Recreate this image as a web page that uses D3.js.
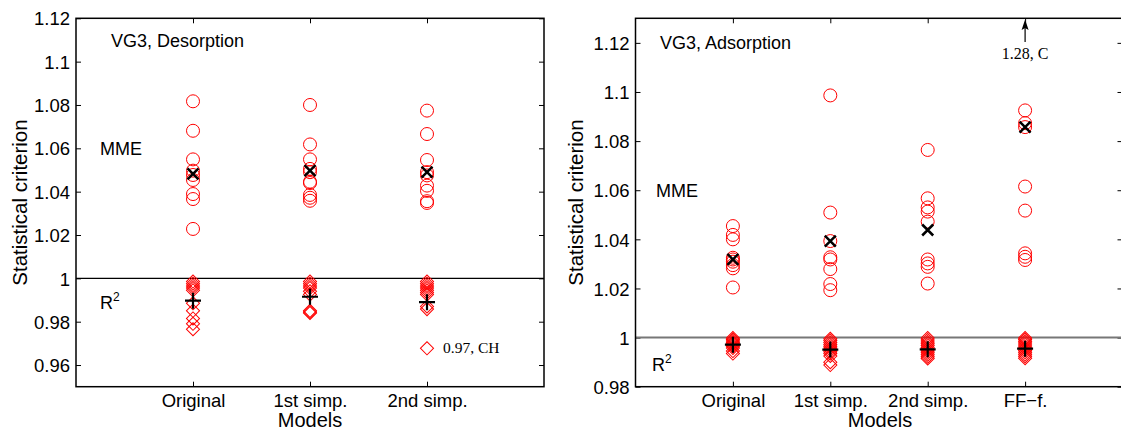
<!DOCTYPE html>
<html>
<head>
<meta charset="utf-8">
<script src="https://cdn.jsdelivr.net/npm/d3@7"></script>
<style>
  body { margin: 0; background: #fff; }
  svg text { font-family: "Liberation Sans", Arial, sans-serif; fill: #000; }
  .note { font-family: "Liberation Serif", "Times New Roman", serif; }
</style>
</head>
<body>
<div class="chart"></div>
<script>
// ---- data ----
var desModels = ["Original", "1st simp.", "2nd simp."];
var adsModels = ["Original", "1st simp.", "2nd simp.", "FF\u2212f."];

// MME values (circles), one array per model
var desMME = [
    [1.0817, 1.0681, 1.0549, 1.0497, 1.0477, 1.0454, 1.0389, 1.0366, 1.0228],
    [1.0800, 1.0618, 1.0549, 1.0505, 1.0490, 1.0446, 1.0440, 1.0385, 1.0372, 1.0358],
    [1.0774, 1.0666, 1.0546, 1.0490, 1.0475, 1.0428, 1.0404, 1.0356, 1.0348]
];
var desMMEmean = [1.0482, 1.0497, 1.0490];

// R2 values (diamonds)
var desR2 = [
    [0.9985, 0.9975, 0.9965, 0.9955, 0.9945, 0.9885, 0.9850, 0.9815, 0.9790, 0.9765],
    [0.9985, 0.9975, 0.9965, 0.9955, 0.9940, 0.9925, 0.9850, 0.9845, 0.9840],
    [0.9985, 0.9975, 0.9965, 0.9955, 0.9945, 0.9935, 0.9925, 0.9870, 0.9858]
];
var desR2mean = [0.9897, 0.9915, 0.9890];

var adsMME = [
    [1.0454, 1.0418, 1.0400, 1.0325, 1.0318, 1.0309, 1.0295, 1.0282, 1.0204],
    [1.0986, 1.0509, 1.0393, 1.0327, 1.0318, 1.0279, 1.0218, 1.0193],
    [1.0764, 1.0567, 1.0530, 1.0513, 1.0472, 1.0318, 1.0302, 1.0288, 1.0220],
    [1.0925, 1.0873, 1.0857, 1.0615, 1.0517, 1.0343, 1.0329, 1.0316]
];
var adsMMEmean = [1.0318, 1.0393, 1.0438, 1.0857];

var adsR2 = [
    [0.9998, 0.9992, 0.9986, 0.9980, 0.9975, 0.9970, 0.9965, 0.9958, 0.9945, 0.9935],
    [0.9995, 0.9988, 0.9980, 0.9972, 0.9965, 0.9958, 0.9950, 0.9942, 0.9935, 0.9925, 0.9900, 0.9888],
    [0.9998, 0.9990, 0.9982, 0.9975, 0.9968, 0.9960, 0.9952, 0.9945, 0.9938, 0.9930, 0.9922, 0.9915],
    [0.9998, 0.9992, 0.9985, 0.9978, 0.9970, 0.9962, 0.9955, 0.9947, 0.9940, 0.9932, 0.9924, 0.9916]
];
var adsR2mean = [0.9971, 0.9951, 0.9952, 0.9955];

var desTicks = [0.96, 0.98, 1, 1.02, 1.04, 1.06, 1.08, 1.1, 1.12];
var adsTicks = [0.98, 1, 1.02, 1.04, 1.06, 1.08, 1.1, 1.12];

// points that are labelled in the plot
var desNote = {model: 3, value: 0.9677, text: "0.97, CH"};
var adsNote = {model: 4, value: 1.28, text: "1.28, C"};

var svg = d3.select(".chart").append("svg")
    .attr("width", 1121)
    .attr("height", 430);

function crossPath(h) {
    var p = d3.path();
    p.moveTo(-h, -h); p.lineTo(h, h);
    p.moveTo(-h, h); p.lineTo(h, -h);
    return p.toString();
}
function plusPath(h) {
    var p = d3.path();
    p.moveTo(-h, 0); p.lineTo(h, 0);
    p.moveTo(0, -h); p.lineTo(0, h);
    return p.toString();
}
var diamond = d3.symbol().type(d3.symbolSquare).size(86);

function drawPanel(cfg) {
    var x = d3.scaleLinear().domain([0, cfg.models.length + 1]).range([cfg.left, cfg.right]);
    var y = d3.scaleLinear().domain(cfg.domain).range([386.7, 18.3]);
    var g = svg.append("g");

    // axes with inward ticks
    var left = g.append("g").attr("transform", `translate(${cfg.left},0)`)
        .call(d3.axisLeft(y).tickValues(cfg.ticks).tickSize(-5).tickPadding(6)
            .tickFormat(d => d3.format("")(+d.toFixed(2))));
    left.selectAll("text").attr("dy", "0.36em").style("font-size", "18.5px");
    g.append("g").attr("transform", `translate(${cfg.right},0)`)
        .call(d3.axisRight(y).tickValues(cfg.ticks).tickSize(-5).tickFormat(""));
    var bottom = g.append("g").attr("transform", "translate(0,386.7)")
        .call(d3.axisBottom(x).tickValues(d3.range(1, cfg.models.length + 1)).tickSize(-5).tickPadding(7)
            .tickFormat(d => cfg.models[d - 1]));
    bottom.selectAll("text").style("font-size", "18.5px");
    g.append("g").attr("transform", "translate(0,18.3)")
        .call(d3.axisTop(x).tickValues(d3.range(1, cfg.models.length + 1)).tickSize(-5).tickFormat(""));
    g.selectAll(".domain").remove();
    g.selectAll(".tick line").attr("stroke", "#000").attr("stroke-width", 1);

    // reference line at 1
    g.append("line")
        .attr("x1", cfg.left).attr("x2", cfg.right)
        .attr("y1", y(1)).attr("y2", y(1))
        .attr("stroke", cfg.lineColor).attr("stroke-width", cfg.lineWidth);

    // frame
    g.append("rect")
        .attr("x", cfg.left).attr("y", 18.3)
        .attr("width", cfg.right - cfg.left).attr("height", 386.7 - 18.3)
        .attr("fill", "none").attr("stroke", "#000").attr("stroke-width", 1.5);

    cfg.models.forEach(function(m, i) {
        var cx = x(i + 1);
        g.selectAll(null).data(cfg.r2[i]).enter().append("path")
            .attr("d", diamond)
            .attr("transform", d => `translate(${cx},${y(d)}) rotate(45)`)
            .attr("fill", "none").attr("stroke", "#f00").attr("stroke-width", 1);
        g.selectAll(null).data(cfg.mme[i]).enter().append("circle")
            .attr("cx", cx).attr("cy", d => y(d)).attr("r", 6.5)
            .attr("fill", "none").attr("stroke", "#f00").attr("stroke-width", 1);
        g.append("path").attr("d", crossPath(5.5))
            .attr("transform", `translate(${cx},${y(cfg.mmeMean[i])})`)
            .attr("stroke", "#000").attr("stroke-width", 2.5);
        g.append("path").attr("d", plusPath(8))
            .attr("transform", `translate(${cx},${y(cfg.r2Mean[i])})`)
            .attr("stroke", "#000").attr("stroke-width", 2.2);
    });

    // panel texts
    g.append("text").attr("x", cfg.titleX).attr("y", cfg.titleY)
        .style("font-size", "18px").text(cfg.title);
    g.append("text").attr("x", cfg.mmeX).attr("y", cfg.mmeY)
        .style("font-size", "18px").text("MME");
    var r2 = g.append("text").attr("x", cfg.r2X).attr("y", cfg.r2Y).style("font-size", "18px");
    r2.append("tspan").text("R");
    r2.append("tspan").attr("dy", "-8").style("font-size", "12px").text("2");

    g.append("text")
        .attr("transform", `translate(${cfg.ylabX},202.5) rotate(-90)`)
        .attr("text-anchor", "middle")
        .style("font-size", "20.5px").text("Statistical criterion");
    g.append("text")
        .attr("x", cfg.modelsX).attr("y", 426.5)
        .attr("text-anchor", "middle")
        .style("font-size", "20px").text("Models");

    return {x: x, y: y, g: g};
}

var des = drawPanel({
    models: desModels, left: 76, right: 544,
    domain: [0.95, 1.12], ticks: desTicks,
    mme: desMME, mmeMean: desMMEmean, r2: desR2, r2Mean: desR2mean,
    lineColor: "#000", lineWidth: 1.3,
    title: "VG3, Desorption", titleX: 111, titleY: 47,
    mmeX: 100, mmeY: 155, r2X: 100, r2Y: 308.5,
    ylabX: 26.5, modelsX: 310
});

var ads = drawPanel({
    models: adsModels, left: 635.5, right: 1122.5,
    domain: [0.98, 1.13], ticks: adsTicks,
    mme: adsMME, mmeMean: adsMMEmean, r2: adsR2, r2Mean: adsR2mean,
    lineColor: "#777", lineWidth: 2,
    title: "VG3, Adsorption", titleX: 660, titleY: 48.5,
    mmeX: 656, mmeY: 196.7, r2X: 652, r2Y: 370.7,
    ylabX: 583, modelsX: 880
});

// CH diamond with its label
var chX = des.x(desNote.model), chY = des.y(desNote.value);
des.g.append("path").attr("d", diamond)
    .attr("transform", `translate(${chX},${chY}) rotate(45)`)
    .attr("fill", "none").attr("stroke", "#f00").attr("stroke-width", 1);
des.g.append("text").attr("class", "note")
    .attr("x", chX + 16).attr("y", chY + 4.5)
    .style("font-size", "15.5px").text(desNote.text);

// off-scale point: arrow pointing up, with label
var cX = ads.x(adsNote.model);
ads.g.append("line").attr("x1", cX).attr("x2", cX).attr("y1", 42).attr("y2", 26)
    .attr("stroke", "#000").attr("stroke-width", 1.2);
ads.g.append("path")
    .attr("d", `M${cX},19.5 L${cX - 3.5},30 L${cX},28 L${cX + 3.5},30 Z`)
    .attr("fill", "#000");
ads.g.append("text").attr("class", "note")
    .attr("x", cX).attr("y", 59).attr("text-anchor", "middle")
    .style("font-size", "16px").text(adsNote.text);
</script>
</body>
</html>
